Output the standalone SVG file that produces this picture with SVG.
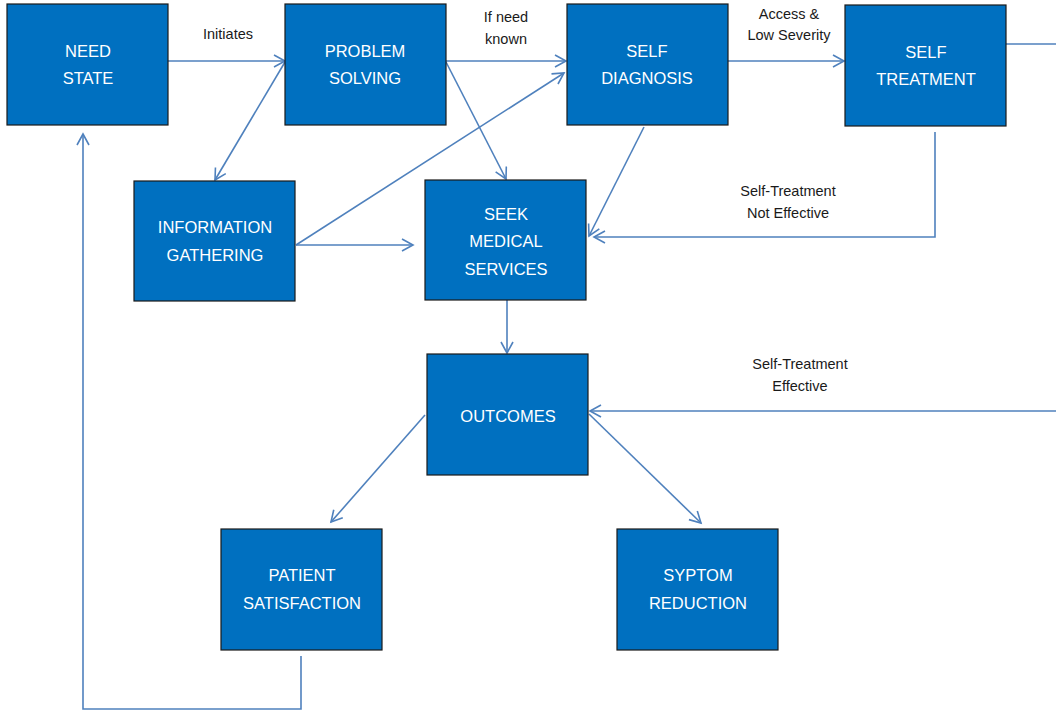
<svg xmlns="http://www.w3.org/2000/svg" width="1056" height="710" viewBox="0 0 1056 710">
<style>
.box{fill:#0070C0;stroke:#1a1a1a;stroke-width:1.2}
.bt{fill:#ffffff;font-family:"Liberation Sans",Arial,sans-serif;font-size:16.5px;text-anchor:middle}
.lb{fill:#1a1a1a;font-family:"Liberation Sans",Arial,sans-serif;font-size:14.5px;text-anchor:middle}
.cn{fill:none;stroke:#4F81BD;stroke-width:1.6}
.ar{marker-end:url(#arr)}
</style>
<defs>
<marker id="arr" markerUnits="userSpaceOnUse" markerWidth="16" markerHeight="16" refX="12" refY="7" orient="auto">
<path d="M1,1 L12,7 L1,13" fill="none" stroke="#4F81BD" stroke-width="1.6"/>
</marker>
</defs>
<rect width="1056" height="710" fill="#ffffff"/>
<g id="connectors">
<line class="cn ar" x1="168" y1="61" x2="285" y2="61"/>
<line class="cn ar" x1="446" y1="61" x2="566" y2="61"/>
<line class="cn ar" x1="728" y1="61" x2="844" y2="61"/>
<line class="cn ar" x1="285" y1="62" x2="215" y2="180"/>
<line class="cn ar" x1="446" y1="62" x2="506" y2="179"/>
<line class="cn ar" x1="296" y1="245" x2="564" y2="73"/>
<line class="cn ar" x1="296" y1="245" x2="413" y2="245"/>
<line class="cn ar" x1="644" y1="127" x2="589" y2="236"/>
<polyline class="cn ar" points="935,132 935,237 594,237"/>
<line class="cn ar" x1="507" y1="300" x2="507" y2="353"/>
<line class="cn" x1="1006" y1="44" x2="1056" y2="44"/>
<line class="cn ar" x1="1056" y1="411" x2="590" y2="411"/>
<line class="cn ar" x1="425" y1="415" x2="331" y2="522"/>
<line class="cn ar" x1="589" y1="414" x2="701" y2="523"/>
<polyline class="cn ar" points="301,656 301,709 83,709 83,134"/>
<text class="lb" x="228" y="39">Initiates</text>
<text class="lb" x="506" y="22">If need</text>
<text class="lb" x="506" y="44">known</text>
<text class="lb" x="789" y="19">Access &amp;</text>
<text class="lb" x="789" y="40">Low Severity</text>
<text class="lb" x="788" y="196">Self-Treatment</text>
<text class="lb" x="788" y="218">Not Effective</text>
<text class="lb" x="800" y="369">Self-Treatment</text>
<text class="lb" x="800" y="391">Effective</text>
</g>
<g id="need-state"><rect class="box" x="7" y="4" width="161" height="121"/><text class="bt" x="88" y="57">NEED</text><text class="bt" x="88" y="84">STATE</text></g>
<g id="problem-solving"><rect class="box" x="285" y="4" width="161" height="121"/><text class="bt" x="365" y="57">PROBLEM</text><text class="bt" x="365" y="84">SOLVING</text></g>
<g id="self-diagnosis"><rect class="box" x="567" y="4" width="161" height="121"/><text class="bt" x="647" y="57">SELF</text><text class="bt" x="647" y="84">DIAGNOSIS</text></g>
<g id="self-treatment"><rect class="box" x="845" y="5" width="161" height="121"/><text class="bt" x="926" y="58">SELF</text><text class="bt" x="926" y="85">TREATMENT</text></g>
<g id="information-gathering"><rect class="box" x="134" y="181" width="161" height="120"/><text class="bt" x="215" y="233">INFORMATION</text><text class="bt" x="215" y="261">GATHERING</text></g>
<g id="seek-medical-services"><rect class="box" x="425" y="180" width="161" height="120"/><text class="bt" x="506" y="220">SEEK</text><text class="bt" x="506" y="247">MEDICAL</text><text class="bt" x="506" y="275">SERVICES</text></g>
<g id="outcomes"><rect class="box" x="427" y="354" width="161" height="121"/><text class="bt" x="508" y="422">OUTCOMES</text></g>
<g id="patient-satisfaction"><rect class="box" x="221" y="529" width="161" height="121"/><text class="bt" x="302" y="581">PATIENT</text><text class="bt" x="302" y="609">SATISFACTION</text></g>
<g id="syptom-reduction"><rect class="box" x="617" y="529" width="161" height="121"/><text class="bt" x="698" y="581">SYPTOM</text><text class="bt" x="698" y="609">REDUCTION</text></g>
</svg>
